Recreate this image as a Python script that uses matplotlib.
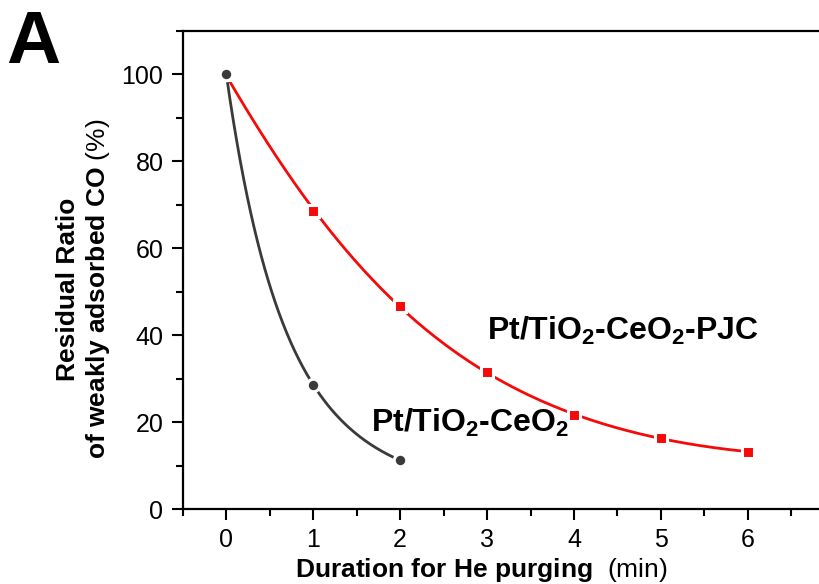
import numpy as np
import matplotlib
matplotlib.use('Agg')
import matplotlib.pyplot as plt
from matplotlib.ticker import MultipleLocator

plt.rcParams['font.family'] = ['Liberation Sans', 'DejaVu Sans']
plt.rcParams['mathtext.fontset'] = 'custom'
plt.rcParams['mathtext.rm'] = 'Liberation Sans'
plt.rcParams['mathtext.bf'] = 'Liberation Sans:bold'
plt.rcParams['mathtext.default'] = 'bf'

# data
time_plain = [0, 1, 2]
ratio_plain = [100, 28.6, 11.2]
time_pjc = [0, 1, 2, 3, 4, 5, 6]
ratio_pjc = [100, 68.5, 46.7, 31.6, 21.6, 16.3, 13.2]

label_plain = 'Pt/TiO$_2$-CeO$_2$'
label_pjc = 'Pt/TiO$_2$-CeO$_2$-PJC'

GRAY = '#3a3a3a'
RED = '#f50a0a'


def smooth_curve(x, y, deg):
    # smooth guide line: polynomial fit of log(y)
    coef = np.polyfit(x, np.log(y), deg)
    xs = np.linspace(min(x), max(x), 300)
    return xs, np.exp(np.polyval(coef, xs))


fig = plt.figure(figsize=(8.2, 5.84), dpi=100)
ax = fig.add_axes([0.223, 0.1284, 0.795, 0.8185])

xs, ys = smooth_curve(time_pjc, ratio_pjc, 3)
ax.plot(xs, ys, color=RED, lw=2.0, zorder=2)
xs, ys = smooth_curve(time_plain, ratio_plain, 2)
ax.plot(xs, ys, color=GRAY, lw=2.0, zorder=3)

ax.plot(time_pjc, ratio_pjc, ls='none', marker='s', ms=8, color=RED,
        mec='white', mew=2.2, zorder=4)
ax.plot(time_plain, ratio_plain, ls='none', marker='o', ms=9, color=GRAY,
        mec='white', mew=2.2, zorder=5)

ax.text(3.0, 40.9, label_pjc, fontsize=23, fontweight='bold', va='center', ha='left')
ax.text(1.67, 19.8, label_plain, fontsize=23, fontweight='bold', va='center', ha='left')

ax.set_xlim(-0.5, 7.0)
ax.set_ylim(0, 110)
ax.set_xticks(range(0, 7))
ax.xaxis.set_minor_locator(MultipleLocator(0.5))
ax.yaxis.set_major_locator(MultipleLocator(20))
ax.yaxis.set_minor_locator(MultipleLocator(10))
ax.tick_params(which='major', direction='out', length=8, width=1.5, labelsize=18, pad=6)
ax.tick_params(which='minor', direction='out', length=5, width=1.5)
ax.tick_params(axis='x', which='both', top=False)
ax.tick_params(axis='y', which='both', right=False)
for sp in ax.spines.values():
    sp.set_linewidth(1.6)

fig.text(481 / 820, 1 - 577 / 584, 'Duration for He purging  $\\mathrm{(min)}$',
         fontsize=19, fontweight='bold', ha='center', va='baseline')
fig.text(84 / 820, 1 - 289 / 584, 'Residual Ratio\nof weakly adsorbed CO $\\mathrm{(\\%)}$',
         fontsize=19, fontweight='bold', rotation=90, ha='center', va='center',
         multialignment='center', linespacing=1.2)

fig.text(0.007, 0.985, 'A', fontsize=54, fontweight='bold', va='top', ha='left')

fig.savefig('out.png', dpi=100)
